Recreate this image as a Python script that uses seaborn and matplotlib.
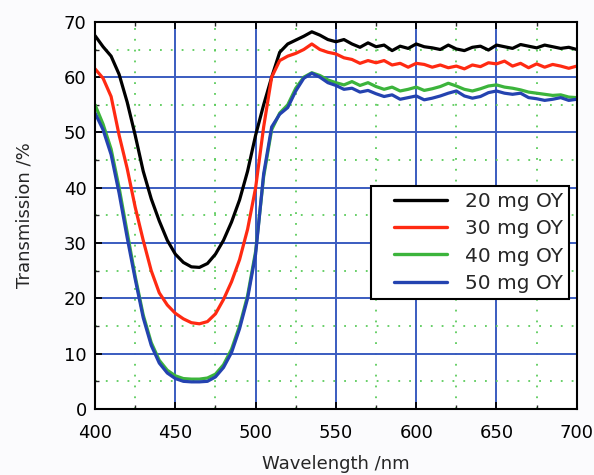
import numpy as np
import pandas as pd
import matplotlib
matplotlib.use("Agg")
import matplotlib.pyplot as plt
import seaborn as sns
from matplotlib.ticker import MultipleLocator
from matplotlib.legend_handler import HandlerLine2D
from matplotlib.lines import Line2D

wavelength = list(range(400, 701, 5))

t20 = [67.5, 65.5, 63.8, 60.5, 55.5, 49.5, 43, 38, 34, 30.5, 28, 26.5, 25.7, 25.6, 26.3,
       28, 30.5, 33.8, 37.8, 43, 49.5, 55, 60, 64.5, 66, 66.7, 67.4, 68.2, 67.6, 66.8,
       66.4, 66.8, 66, 65.4, 66.2, 65.5, 65.8, 64.8, 65.6, 65.2, 66, 65.5, 65.3, 65,
       65.8, 65.1, 64.8, 65.4, 65.6, 64.9, 65.8, 65.5, 65.2, 65.9, 65.6, 65.3, 65.8,
       65.5, 65.2, 65.4, 65]
t30 = [61.5, 59.8, 56.5, 49.5, 43.5, 36.5, 30.5, 25, 21, 18.8, 17.3, 16.3, 15.6, 15.4,
       15.8, 17.2, 19.8, 23, 27, 32.5, 40, 51, 60, 63, 63.8, 64.3, 65, 66, 65, 64.5,
       64.2, 63.5, 63.2, 62.5, 63, 62.6, 63, 62.2, 62.5, 61.8, 62.5, 62.3, 61.8, 62.2,
       61.7, 62, 61.5, 62.2, 61.9, 62.6, 62.4, 62.9, 62, 62.5, 61.7, 62.4, 61.8, 62.3,
       62, 61.6, 62]
t40 = [55, 51.5, 47, 40, 32, 24, 17, 12, 8.8, 7, 6, 5.5, 5.4, 5.4, 5.6, 6.3, 8, 10.8,
       15, 20.5, 28.5, 42, 50.5, 53.5, 55, 58, 60, 60.8, 60.3, 59.5, 59, 58.6, 59.2,
       58.5, 59, 58.3, 57.8, 58.2, 57.5, 57.8, 58.2, 57.6, 57.9, 58.3, 58.9, 58.4, 57.8,
       57.5, 57.9, 58.4, 58.6, 58.2, 58, 57.7, 57.3, 57.1, 56.9, 56.7, 56.8, 56.4, 56.3]
t50 = [53.5, 50.5, 46, 39, 31, 23.5, 16.5, 11.5, 8.3, 6.5, 5.5, 5, 4.9, 4.9, 5, 5.8, 7.5,
       10.2, 14.5, 20, 28, 42.5, 51, 53.3, 54.5, 57.5, 59.8, 60.7, 60, 59, 58.5, 57.8,
       58, 57.3, 57.6, 57, 56.5, 56.8, 56, 56.3, 56.6, 55.9, 56.2, 56.6, 57.1, 57.5,
       56.6, 56.2, 56.5, 57.2, 57.5, 57.1, 56.9, 57.1, 56.3, 56.1, 55.8, 56, 56.3, 55.8, 56]

labels = ["20 mg OY", "30 mg OY", "40 mg OY", "50 mg OY"]
colors = ["#000000", "#ff2a12", "#3cb43c", "#2443b0"]

frames = []
for lab, vals in zip(labels, [t20, t30, t40, t50]):
    frames.append(pd.DataFrame({"Wavelength": wavelength, "T": vals, "Sample": lab}))
df = pd.concat(frames, ignore_index=True)

sns.set_style("white")
plt.rcParams["font.family"] = ["DejaVu Sans"]

fig = plt.figure(figsize=(5.94, 4.75), dpi=100)
fig.patch.set_facecolor("#fbfbfd")
ax = fig.add_axes([0.16, 0.139, 0.811, 0.815])

sns.lineplot(data=df, x="Wavelength", y="T", hue="Sample", hue_order=labels,
             palette=dict(zip(labels, colors)), linewidth=2.3, ax=ax, legend=False)

ax.set_xlim(400, 700)
ax.set_ylim(0, 70)
ax.xaxis.set_major_locator(MultipleLocator(50))
ax.xaxis.set_minor_locator(MultipleLocator(25))
ax.yaxis.set_major_locator(MultipleLocator(10))
ax.yaxis.set_minor_locator(MultipleLocator(5))
ax.grid(which="major", color="#3a5cc0", linewidth=1.4, linestyle="-")
ax.grid(which="minor", color="#5ccc5c", linewidth=1.3, linestyle=(0, (1, 5)))
ax.set_axisbelow(True)
ax.tick_params(which="major", direction="in", length=5, width=1.3, colors="black",
               labelsize=13, top=True, right=False, bottom=True, left=True, pad=6)
ax.tick_params(axis="x", which="major", pad=11)
ax.tick_params(which="minor", direction="in", length=3, width=1.0, top=True, bottom=True,
               left=True)
for s in ax.spines.values():
    s.set_color("black")
    s.set_linewidth(1.5)

ax.set_xlabel("Wavelength /nm", fontsize=13, labelpad=9)
ax.set_ylabel("Transmission /%", fontsize=13, labelpad=22)

handles = [Line2D([], [], color=c, linewidth=2.4) for c in colors]
leg = ax.legend(handles, labels, loc="lower right", bbox_to_anchor=(0.983, 0.284),
                borderaxespad=0, fontsize=14.5, frameon=True, fancybox=False,
                handlelength=4.33, labelspacing=0.42, handletextpad=0.0, borderpad=0.3,
                handler_map={Line2D: HandlerLine2D(marker_pad=0.85, numpoints=2)})
leg.get_frame().set_edgecolor("black")
leg.get_frame().set_linewidth(1.5)
leg.get_frame().set_alpha(1)

fig.savefig("out.png", dpi=100, facecolor=fig.get_facecolor())
